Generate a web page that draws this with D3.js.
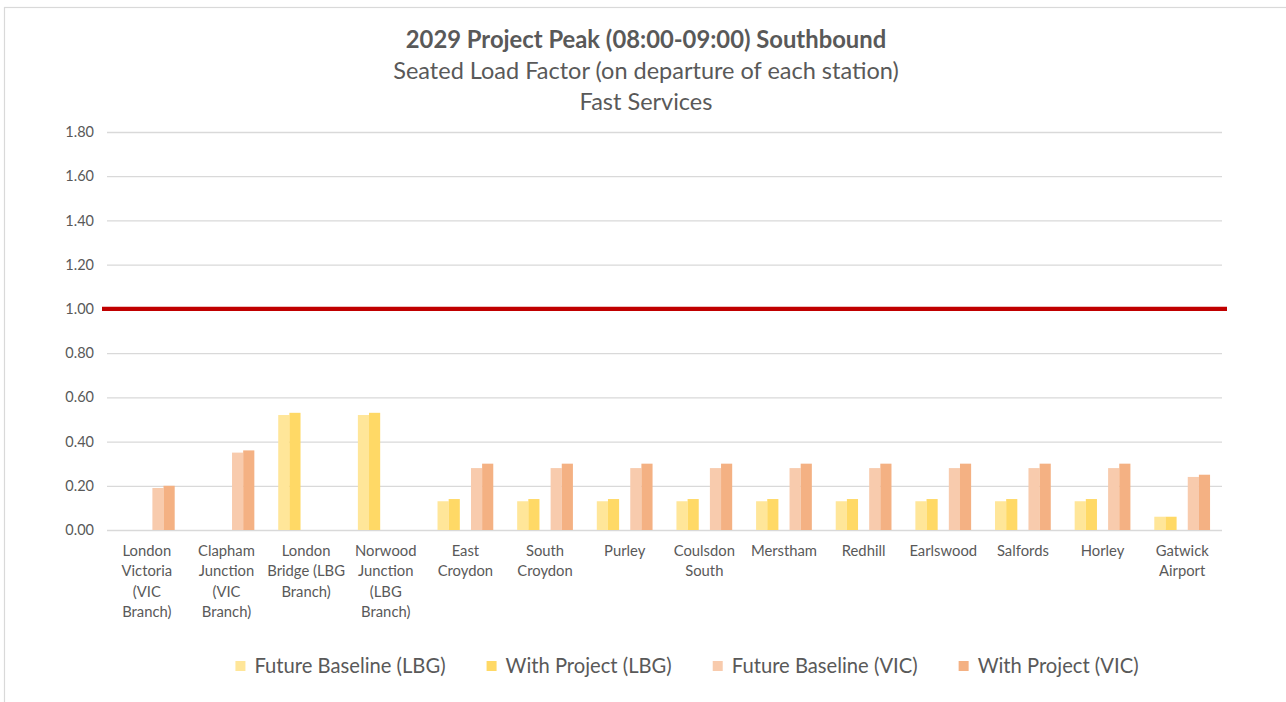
<!DOCTYPE html>
<html>
<head>
<meta charset="utf-8">
<script src="https://cdn.jsdelivr.net/npm/d3@7/dist/d3.min.js"></script>
<style>
  html, body { margin: 0; padding: 0; background: #fff; }
  svg { display: block; font-family: Lato, "Open Sans", sans-serif; }
</style>
</head>
<body>
<svg id="chart" width="1286" height="702"></svg>
<script>
// Stations, southbound order
const categories = [
  "London Victoria (VIC Branch)",
  "Clapham Junction (VIC Branch)",
  "London Bridge (LBG Branch)",
  "Norwood Junction (LBG Branch)",
  "East Croydon",
  "South Croydon",
  "Purley",
  "Coulsdon South",
  "Merstham",
  "Redhill",
  "Earlswood",
  "Salfords",
  "Horley",
  "Gatwick Airport"
];

const seriesNames = [
  "Future Baseline (LBG)",
  "With Project (LBG)",
  "Future Baseline (VIC)",
  "With Project (VIC)"
];

// Seated load factor on departure (null = no service on that branch)
const baselineLBG = [null, null, 0.52, 0.52, 0.13, 0.13, 0.13, 0.13, 0.13, 0.13, 0.13, 0.13, 0.13, 0.06];
const projectLBG  = [null, null, 0.53, 0.53, 0.14, 0.14, 0.14, 0.14, 0.14, 0.14, 0.14, 0.14, 0.14, 0.06];
const baselineVIC = [0.19, 0.35, null, null, 0.28, 0.28, 0.28, 0.28, 0.28, 0.28, 0.28, 0.28, 0.28, 0.24];
const projectVIC  = [0.20, 0.36, null, null, 0.30, 0.30, 0.30, 0.30, 0.30, 0.30, 0.30, 0.30, 0.30, 0.25];

const yTicks = [0, 0.2, 0.4, 0.6, 0.8, 1.0, 1.2, 1.4, 1.6, 1.8];
const capacityLevel = 1.0;

const titleLines = [
  "2029 Project Peak (08:00-09:00) Southbound",
  "Seated Load Factor (on departure of each station)",
  "Fast Services"
];

const seriesValues = [baselineLBG, projectLBG, baselineVIC, projectVIC];
const colors = ["#ffe699", "#ffd966", "#f8cbad", "#f4b183"];
const textColor = "#595959";

const svg = d3.select("#chart");

// chart frame
svg.append("rect")
  .attr("x", 4.5).attr("y", 7.5)
  .attr("width", 1400).attr("height", 800)
  .attr("fill", "#fff")
  .attr("stroke", "#d9d9d9").attr("stroke-width", 1.2);

const plot = { left: 107, right: 1222, top: 132, bottom: 530 };

const x = d3.scaleBand()
  .domain(categories)
  .range([plot.left, plot.right])
  .paddingInner(0.30)
  .paddingOuter(0.15);

// five slots per group: the middle one separates the two branches
const slotKeys = ["bLBG", "pLBG", "gap", "bVIC", "pVIC"];
const seriesKeys = ["bLBG", "pLBG", "bVIC", "pVIC"];
const xs = d3.scaleBand().domain(slotKeys).range([0, x.bandwidth()]);

const y = d3.scaleLinear().domain([0, 1.8]).range([plot.bottom, plot.top]);

// gridlines + value axis
const yAxis = d3.axisLeft(y)
  .tickValues(yTicks)
  .tickFormat(d3.format(".2f"))
  .tickSize(-(plot.right - plot.left))
  .tickPadding(13);

const yg = svg.append("g")
  .attr("transform", `translate(${plot.left},0)`)
  .call(yAxis);
yg.select(".domain").remove();
yg.selectAll(".tick line").attr("stroke", "#d9d9d9").attr("stroke-width", 1.3);
yg.selectAll(".tick text")
  .attr("fill", textColor)
  .style("font-size", "14.5px")
  .style("font-family", "Lato, sans-serif");

// bars
const rows = categories.map((c, i) => ({
  cat: c,
  vals: seriesKeys.map((k, j) => ({ key: k, idx: j, v: seriesValues[j][i] }))
}));

const groups = svg.append("g").selectAll("g")
  .data(rows)
  .join("g")
  .attr("transform", d => `translate(${x(d.cat)},0)`);

groups.selectAll("rect")
  .data(d => d.vals.filter(v => v.v != null))
  .join("rect")
  .attr("x", d => xs(d.key))
  .attr("width", xs.bandwidth())
  .attr("y", d => y(d.v))
  .attr("height", d => y(0) - y(d.v))
  .attr("fill", d => colors[d.idx]);

// capacity line at 1.00
svg.append("line")
  .attr("x1", plot.left - 5).attr("x2", plot.right + 5)
  .attr("y1", y(capacityLevel)).attr("y2", y(capacityLevel))
  .attr("stroke", "#c00000").attr("stroke-width", 4.2);

// category labels, wrapped to the band
const labelSize = 14.8;
const measure = svg.append("text").style("font-size", labelSize + "px").attr("opacity", 0);
function textWidth(s) { measure.text(s); return measure.node().getComputedTextLength(); }
const maxLabelWidth = textWidth("Bridge (LBG") + 1;

function wrap(label) {
  const words = label.split(" ");
  const lines = [];
  let cur = "";
  words.forEach(w => {
    const trial = cur ? cur + " " + w : w;
    if (cur && textWidth(trial) > maxLabelWidth) { lines.push(cur); cur = w; }
    else cur = trial;
  });
  if (cur) lines.push(cur);
  return lines;
}

const labels = svg.append("g").selectAll("text")
  .data(categories)
  .join("text")
  .attr("x", d => x(d) + x.bandwidth() / 2)
  .attr("y", plot.bottom + 26)
  .attr("text-anchor", "middle")
  .attr("fill", textColor)
  .style("font-size", labelSize + "px");

labels.each(function(d) {
  const t = d3.select(this);
  wrap(d).forEach((line, i) => {
    t.append("tspan")
      .attr("x", x(d) + x.bandwidth() / 2)
      .attr("dy", i === 0 ? 0 : 20.4)
      .text(line);
  });
});
measure.remove();

// titles
svg.append("text")
  .attr("x", 646).attr("y", 47.5)
  .attr("text-anchor", "middle")
  .attr("fill", textColor)
  .style("font-size", "23.8px").style("font-weight", "bold")
  .text(titleLines[0]);
svg.append("text")
  .attr("x", 646).attr("y", 79)
  .attr("text-anchor", "middle")
  .attr("fill", textColor)
  .style("font-size", "23.5px")
  .text(titleLines[1]);
svg.append("text")
  .attr("x", 646).attr("y", 110)
  .attr("text-anchor", "middle")
  .attr("fill", textColor)
  .style("font-size", "23.5px")
  .text(titleLines[2]);

// legend, centred under the plot
const legend = svg.append("g");
const legendSize = 20.2;
const items = legend.selectAll("g")
  .data(seriesNames)
  .join("g");
items.append("rect")
  .attr("width", 10).attr("height", 10)
  .attr("y", -5)
  .attr("fill", (d, i) => colors[i]);
items.append("text")
  .attr("x", 19)
  .attr("dy", "0.35em")
  .attr("fill", textColor)
  .style("font-size", legendSize + "px")
  .text(d => d);

const widths = [];
items.each(function() {
  const w = 19 + d3.select(this).select("text").node().getComputedTextLength();
  widths.push(w);
});
const legendGap = 41;
const total = d3.sum(widths) + legendGap * (widths.length - 1);
let cx = 687 - total / 2;
items.attr("transform", (d, i) => {
  const t = `translate(${cx},666)`;
  cx += widths[i] + legendGap;
  return t;
});
</script>
</body>
</html>
